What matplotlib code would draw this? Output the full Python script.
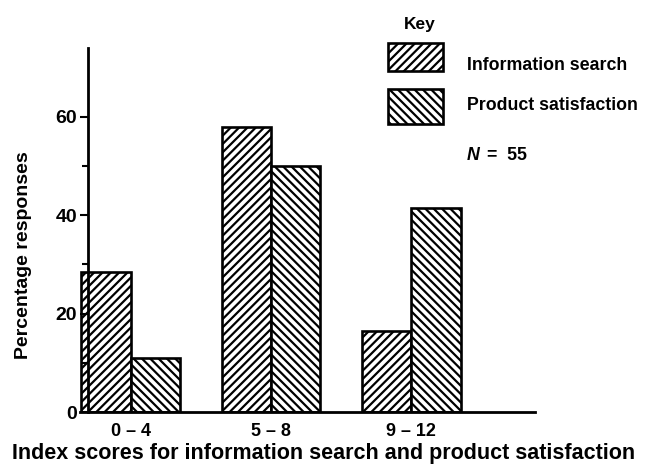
import numpy as np
import matplotlib
matplotlib.use('Agg')
import matplotlib.pyplot as plt
from matplotlib.patches import Rectangle

# valores
categorias = ['0 – 4', '5 – 8', '9 – 12']
info_busca = [28.5, 58, 16.5]
satisfacao = [11, 50, 41.5]
series = ['Information search', 'Product satisfaction']

plt.rcParams['font.family'] = 'Liberation Sans'
plt.rcParams['font.weight'] = 'bold'
plt.rcParams['hatch.linewidth'] = 1.6
plt.rcParams['hatch.color'] = 'black'

fig = plt.figure(figsize=(6.45, 4.65), dpi=100)
ax = fig.add_axes([80/645, 53/465, 455/645, 364/465])

x = np.arange(len(categorias))
w = 0.35
ax.bar(x - w/2, info_busca, w, facecolor='white', edgecolor='black',
       linewidth=1.9, hatch='////')
ax.bar(x + w/2, satisfacao, w, facecolor='white', edgecolor='black',
       linewidth=1.9, hatch='\\\\\\\\')

ax.set_xlim(-0.36, 2.88)
ax.set_ylim(0, 74)
ax.spines['top'].set_visible(False)
ax.spines['right'].set_visible(False)
ax.spines['left'].set_position(('data', -0.30))
ax.spines['left'].set_linewidth(2)
ax.spines['bottom'].set_linewidth(2)

ax.set_yticks([0, 20, 40, 60])
ax.set_yticks([10, 30, 50], minor=True)
ax.tick_params(axis='y', which='both', direction='out', width=1.5, labelsize=14, pad=2)
ax.tick_params(axis='y', which='major', length=6)
ax.tick_params(axis='y', which='minor', length=4)
ax.set_xticks(x)
ax.set_xticklabels(categorias)
ax.tick_params(axis='x', length=0, labelsize=13, pad=8)

ax.set_ylabel('Percentage responses', fontsize=14, fontweight='bold')
ax.yaxis.set_label_coords(-0.105, 0.43)
fig.text(324/645, 1 - 453/465, 'Index scores for information search and product satisfaction',
         ha='center', va='center', fontsize=15.5, fontweight='bold')

# legenda
fig.text(420/645, 1 - 25/465, 'Key', ha='center', va='center', fontsize=12.5, fontweight='bold')
fig.patches.append(Rectangle((388/645, 1 - 71/465), 55/645, 28/465, transform=fig.transFigure,
                             facecolor='white', edgecolor='black', linewidth=1.9, hatch='////'))
fig.patches.append(Rectangle((388/645, 1 - 124/465), 55/645, 35/465, transform=fig.transFigure,
                             facecolor='white', edgecolor='black', linewidth=1.9, hatch='\\\\\\\\'))
fig.text(467/645, 1 - 65/465, series[0], ha='left', va='center', fontsize=12.8, fontweight='bold')
fig.text(467/645, 1 - 105/465, series[1], ha='left', va='center', fontsize=12.8, fontweight='bold')
fig.text(467/645, 1 - 155/465, 'N', ha='left', va='center', fontsize=12.8,
         fontweight='bold', fontstyle='italic')
fig.text(487/645, 1 - 155/465, '=  55', ha='left', va='center', fontsize=12.8, fontweight='bold')

fig.savefig('out.png', dpi=100)
